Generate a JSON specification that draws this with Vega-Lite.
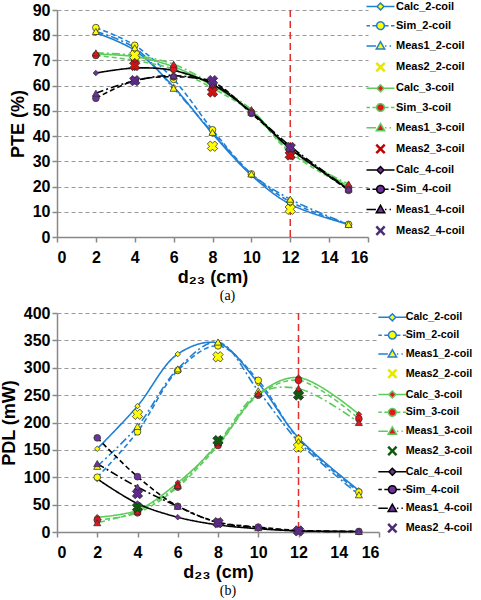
{
  "$schema": "https://vega.github.io/schema/vega-lite/v6.json",
  "background": "white",
  "padding": {"left": 0, "top": 1, "right": 0, "bottom": 2},
  "spacing": 2,
  "config": {
    "view": {"stroke": null},
    "font": "Liberation Sans",
    "axis": {"labelFont": "Liberation Sans", "labelFontWeight": "bold", "labelFontSize": 16, "labelColor": "#000", "labelOverlap": false, "titleFont": "Liberation Sans", "titleFontWeight": "bold", "titleFontSize": 18, "titleColor": "#000", "domainColor": "#888", "domainWidth": 1.5, "tickColor": "#888", "tickWidth": 1.5, "tickSize": 5},
    "axisY": {"gridColor": "#999", "gridDash": [4, 3], "gridWidth": 1, "titlePadding": 5, "labelPadding": 2},
    "axisX": {"grid": false, "labelPadding": 7, "titlePadding": 3}
  },
  "datasets": {
    "pte": [
      {"series": "Calc_2-coil", "d": 2, "v": 81}, {"series": "Calc_2-coil", "d": 4, "v": 74}, {"series": "Calc_2-coil", "d": 6, "v": 59.5}, {"series": "Calc_2-coil", "d": 8, "v": 41}, {"series": "Calc_2-coil", "d": 10, "v": 24.5}, {"series": "Calc_2-coil", "d": 12, "v": 13}, {"series": "Calc_2-coil", "d": 15, "v": 5},
      {"series": "Sim_2-coil", "d": 2, "v": 83}, {"series": "Sim_2-coil", "d": 4, "v": 76}, {"series": "Sim_2-coil", "d": 6, "v": 62.5}, {"series": "Sim_2-coil", "d": 8, "v": 42.5}, {"series": "Sim_2-coil", "d": 10, "v": 25}, {"series": "Sim_2-coil", "d": 12, "v": 14}, {"series": "Sim_2-coil", "d": 15, "v": 5},
      {"series": "Meas1_2-coil", "d": 2, "v": 81.5}, {"series": "Meas1_2-coil", "d": 4, "v": 75}, {"series": "Meas1_2-coil", "d": 6, "v": 59}, {"series": "Meas1_2-coil", "d": 8, "v": 41.5}, {"series": "Meas1_2-coil", "d": 10, "v": 25}, {"series": "Meas1_2-coil", "d": 12, "v": 15}, {"series": "Meas1_2-coil", "d": 15, "v": 5},
      {"series": "Meas2_2-coil", "d": 4, "v": 72}, {"series": "Meas2_2-coil", "d": 8, "v": 36}, {"series": "Meas2_2-coil", "d": 12, "v": 11},
      {"series": "Calc_3-coil", "d": 2, "v": 72.5}, {"series": "Calc_3-coil", "d": 4, "v": 71.5}, {"series": "Calc_3-coil", "d": 6, "v": 67.5}, {"series": "Calc_3-coil", "d": 8, "v": 60}, {"series": "Calc_3-coil", "d": 10, "v": 50}, {"series": "Calc_3-coil", "d": 12, "v": 35}, {"series": "Calc_3-coil", "d": 15, "v": 20},
      {"series": "Sim_3-coil", "d": 2, "v": 72}, {"series": "Sim_3-coil", "d": 4, "v": 70}, {"series": "Sim_3-coil", "d": 6, "v": 66.5}, {"series": "Sim_3-coil", "d": 8, "v": 59}, {"series": "Sim_3-coil", "d": 10, "v": 49.5}, {"series": "Sim_3-coil", "d": 12, "v": 33.5}, {"series": "Sim_3-coil", "d": 15, "v": 19.5},
      {"series": "Meas1_3-coil", "d": 2, "v": 73}, {"series": "Meas1_3-coil", "d": 4, "v": 72}, {"series": "Meas1_3-coil", "d": 6, "v": 68.5}, {"series": "Meas1_3-coil", "d": 8, "v": 60.5}, {"series": "Meas1_3-coil", "d": 10, "v": 50.5}, {"series": "Meas1_3-coil", "d": 12, "v": 34}, {"series": "Meas1_3-coil", "d": 15, "v": 21},
      {"series": "Meas2_3-coil", "d": 4, "v": 68}, {"series": "Meas2_3-coil", "d": 8, "v": 57.5}, {"series": "Meas2_3-coil", "d": 12, "v": 32.5},
      {"series": "Calc_4-coil", "d": 2, "v": 65}, {"series": "Calc_4-coil", "d": 4, "v": 67}, {"series": "Calc_4-coil", "d": 6, "v": 66}, {"series": "Calc_4-coil", "d": 8, "v": 60.5}, {"series": "Calc_4-coil", "d": 10, "v": 49.5}, {"series": "Calc_4-coil", "d": 12, "v": 35}, {"series": "Calc_4-coil", "d": 15, "v": 19},
      {"series": "Sim_4-coil", "d": 2, "v": 55}, {"series": "Sim_4-coil", "d": 4, "v": 62}, {"series": "Sim_4-coil", "d": 6, "v": 63.5}, {"series": "Sim_4-coil", "d": 8, "v": 61.5}, {"series": "Sim_4-coil", "d": 10, "v": 49}, {"series": "Sim_4-coil", "d": 12, "v": 35.5}, {"series": "Sim_4-coil", "d": 15, "v": 18.5},
      {"series": "Meas1_4-coil", "d": 2, "v": 57}, {"series": "Meas1_4-coil", "d": 4, "v": 62}, {"series": "Meas1_4-coil", "d": 6, "v": 64}, {"series": "Meas1_4-coil", "d": 8, "v": 61}, {"series": "Meas1_4-coil", "d": 10, "v": 49.5}, {"series": "Meas1_4-coil", "d": 12, "v": 36}, {"series": "Meas1_4-coil", "d": 15, "v": 19},
      {"series": "Meas2_4-coil", "d": 4, "v": 62}, {"series": "Meas2_4-coil", "d": 8, "v": 62}, {"series": "Meas2_4-coil", "d": 12, "v": 35.5}
    ],
    "pdl": [
      {"series": "Calc_2-coil", "d": 2, "v": 152}, {"series": "Calc_2-coil", "d": 4, "v": 230}, {"series": "Calc_2-coil", "d": 6, "v": 325}, {"series": "Calc_2-coil", "d": 8, "v": 345}, {"series": "Calc_2-coil", "d": 10, "v": 272}, {"series": "Calc_2-coil", "d": 12, "v": 172}, {"series": "Calc_2-coil", "d": 15, "v": 76},
      {"series": "Sim_2-coil", "d": 2, "v": 100}, {"series": "Sim_2-coil", "d": 4, "v": 183}, {"series": "Sim_2-coil", "d": 6, "v": 295}, {"series": "Sim_2-coil", "d": 8, "v": 340}, {"series": "Sim_2-coil", "d": 10, "v": 277}, {"series": "Sim_2-coil", "d": 12, "v": 170}, {"series": "Sim_2-coil", "d": 15, "v": 73},
      {"series": "Meas1_2-coil", "d": 2, "v": 120}, {"series": "Meas1_2-coil", "d": 4, "v": 193}, {"series": "Meas1_2-coil", "d": 6, "v": 298}, {"series": "Meas1_2-coil", "d": 8, "v": 347}, {"series": "Meas1_2-coil", "d": 10, "v": 258}, {"series": "Meas1_2-coil", "d": 12, "v": 165}, {"series": "Meas1_2-coil", "d": 15, "v": 68},
      {"series": "Meas2_2-coil", "d": 4, "v": 215}, {"series": "Meas2_2-coil", "d": 8, "v": 320}, {"series": "Meas2_2-coil", "d": 12, "v": 155},
      {"series": "Calc_3-coil", "d": 2, "v": 27}, {"series": "Calc_3-coil", "d": 4, "v": 40}, {"series": "Calc_3-coil", "d": 6, "v": 90}, {"series": "Calc_3-coil", "d": 8, "v": 160}, {"series": "Calc_3-coil", "d": 10, "v": 252}, {"series": "Calc_3-coil", "d": 12, "v": 282}, {"series": "Calc_3-coil", "d": 15, "v": 215},
      {"series": "Sim_3-coil", "d": 2, "v": 22}, {"series": "Sim_3-coil", "d": 4, "v": 35}, {"series": "Sim_3-coil", "d": 6, "v": 82}, {"series": "Sim_3-coil", "d": 8, "v": 158}, {"series": "Sim_3-coil", "d": 10, "v": 250}, {"series": "Sim_3-coil", "d": 12, "v": 277}, {"series": "Sim_3-coil", "d": 15, "v": 207},
      {"series": "Meas1_3-coil", "d": 2, "v": 17}, {"series": "Meas1_3-coil", "d": 4, "v": 38}, {"series": "Meas1_3-coil", "d": 6, "v": 85}, {"series": "Meas1_3-coil", "d": 8, "v": 163}, {"series": "Meas1_3-coil", "d": 10, "v": 253}, {"series": "Meas1_3-coil", "d": 12, "v": 262}, {"series": "Meas1_3-coil", "d": 15, "v": 200},
      {"series": "Meas2_3-coil", "d": 4, "v": 45}, {"series": "Meas2_3-coil", "d": 8, "v": 167}, {"series": "Meas2_3-coil", "d": 12, "v": 250},
      {"series": "Calc_4-coil", "d": 2, "v": 97}, {"series": "Calc_4-coil", "d": 4, "v": 52}, {"series": "Calc_4-coil", "d": 6, "v": 27}, {"series": "Calc_4-coil", "d": 8, "v": 13}, {"series": "Calc_4-coil", "d": 10, "v": 6}, {"series": "Calc_4-coil", "d": 12, "v": 2}, {"series": "Calc_4-coil", "d": 15, "v": 1},
      {"series": "Sim_4-coil", "d": 2, "v": 172}, {"series": "Sim_4-coil", "d": 4, "v": 101}, {"series": "Sim_4-coil", "d": 6, "v": 47}, {"series": "Sim_4-coil", "d": 8, "v": 18}, {"series": "Sim_4-coil", "d": 10, "v": 9}, {"series": "Sim_4-coil", "d": 12, "v": 3}, {"series": "Sim_4-coil", "d": 15, "v": 1},
      {"series": "Meas1_4-coil", "d": 2, "v": 125}, {"series": "Meas1_4-coil", "d": 4, "v": 82}, {"series": "Meas1_4-coil", "d": 6, "v": 47}, {"series": "Meas1_4-coil", "d": 8, "v": 17}, {"series": "Meas1_4-coil", "d": 10, "v": 8}, {"series": "Meas1_4-coil", "d": 12, "v": 2}, {"series": "Meas1_4-coil", "d": 15, "v": 1},
      {"series": "Meas2_4-coil", "d": 4, "v": 70}, {"series": "Meas2_4-coil", "d": 8, "v": 17}, {"series": "Meas2_4-coil", "d": 12, "v": 2}
    ]
  },
  "resolve": {"scale": {"color": "independent", "fill": "independent", "strokeDash": "independent", "x": "independent", "y": "independent"}, "legend": {"color": "independent"}},
  "vconcat": [
    {
      "width": 311, "height": 227,
      "title": {"text": "(a)", "orient": "bottom", "font": "Liberation Serif", "fontSize": 14, "fontWeight": "normal", "color": "#000", "anchor": "middle", "frame": "group", "dx": 15, "offset": 3},
      "encoding": {
        "x": {"field": "d", "type": "quantitative", "scale": {"domain": [0, 16], "nice": false}, "axis": {"values": [0, 2, 4, 6, 8, 10, 12, 14, 16], "title": "d₂₃ (cm)", "labelOverlap": false}}
      },
      "layer": [
        {
          "data": {"values": [{"d": 12}]},
          "mark": {"type": "rule", "color": "#e03030", "strokeDash": [7, 4], "strokeWidth": 1.5},
          "encoding": {}
        },
        {
          "data": {"name": "pte"},
          "encoding": {
            "y": {"field": "v", "type": "quantitative", "scale": {"domain": [0, 90], "nice": false}, "axis": {"values": [0, 10, 20, 30, 40, 50, 60, 70, 80, 90], "title": "PTE (%)", "grid": true, "labelOverlap": false}}
          },
          "layer": [
            {
              "transform": [{"filter": "!test(/^Meas2/, datum.series)"}],
              "mark": {"type": "line", "interpolate": "catmull-rom", "strokeWidth": 1.6},
              "encoding": {
                "color": {"field": "series", "type": "nominal",
                  "scale": {"domain": ["Calc_2-coil", "Sim_2-coil", "Meas1_2-coil", "Meas2_2-coil", "Calc_3-coil", "Sim_3-coil", "Meas1_3-coil", "Meas2_3-coil", "Calc_4-coil", "Sim_4-coil", "Meas1_4-coil", "Meas2_4-coil"],
                            "range": ["#1f7fd4", "#1f7fd4", "#1f7fd4", "#e6e600", "#5ccc5c", "#5ccc5c", "#5ccc5c", "#c00000", "#000000", "#000000", "#000000", "#4b2a76"]},
                  "legend": {
                    "orient": "none", "legendX": 318, "legendY": -9, "title": null, "padding": 0,
                    "symbolSize": 196, "labelFont": "Liberation Sans", "labelFontSize": 11, "labelFontWeight": "bold", "labelColor": "#000", "labelOffset": 10, "rowPadding": 5.2,
                    "encode": {"symbols": {"update": {
                      "shape": {"signal": "test(/^Calc/, datum.value) ? 'M-2,0H-0.5M0.5,0H2M0,-0.5L0.5,0L0,0.5L-0.5,0Z' : test(/^Sim/, datum.value) ? 'M-2,0H-1.5M-1.15,0H-0.6M0.6,0H1.15M1.5,0H2M0.55,0A0.55,0.55 0 1,1 -0.55,0A0.55,0.55 0 1,1 0.55,0Z' : test(/^Meas1/, datum.value) ? 'M-2,0H-0.65M0.65,0H0.85M1.3,0H1.5M0,-0.6L0.6,0.45L-0.6,0.45Z' : 'M-0.6,-0.6L0.6,0.6M0.6,-0.6L-0.6,0.6'"},
                      "fill": {"signal": "test(/2-coil/, datum.value) ? '#ffff00' : test(/3-coil/, datum.value) ? '#e8141c' : '#7030a0'"},
                      "stroke": {"signal": "test(/2-coil/, datum.value) ? (test(/^Meas2/, datum.value) ? '#e6e600' : '#1f7fd4') : test(/3-coil/, datum.value) ? (test(/^Meas2/, datum.value) ? '#c00000' : '#5ccc5c') : (test(/^Meas2/, datum.value) ? '#4b2a76' : '#000000')"},
                      "strokeDash": {"value": [1, 0]},
                      "strokeWidth": {"signal": "test(/^Meas2/, datum.value) ? 2.5 : 1.5"},
                      "opacity": {"value": 1},
                      "fillOpacity": {"value": 1}
                    }}}
                  }},
                "strokeDash": {"field": "series", "type": "nominal", "legend": null,
                  "scale": {"domain": ["Calc_2-coil", "Sim_2-coil", "Meas1_2-coil", "Calc_3-coil", "Sim_3-coil", "Meas1_3-coil", "Calc_4-coil", "Sim_4-coil", "Meas1_4-coil"],
                            "range": [[1, 0], [5, 3], [8, 3, 2, 3], [1, 0], [5, 3], [8, 3, 2, 3], [1, 0], [5, 3], [8, 3, 2, 3]]}}
              }
            },
            {
              "transform": [{"filter": "test(/^Calc/, datum.series)"}],
              "mark": {"type": "point", "shape": "diamond", "size": 30, "filled": true, "stroke": "#333", "strokeWidth": 0.8, "opacity": 1},
              "encoding": {
                "fill": {"field": "series", "type": "nominal", "legend": null,
                  "scale": {"domain": ["Calc_2-coil", "Sim_2-coil", "Meas1_2-coil", "Meas2_2-coil", "Calc_3-coil", "Sim_3-coil", "Meas1_3-coil", "Meas2_3-coil", "Calc_4-coil", "Sim_4-coil", "Meas1_4-coil", "Meas2_4-coil"],
                            "range": ["#ffff00", "#ffff00", "#ffff00", "#ffff00", "#e8141c", "#e8141c", "#e8141c", "#d01010", "#7030a0", "#7030a0", "#7030a0", "#5b2a86"]}}
              }
            },
            {
              "transform": [{"filter": "test(/^Sim/, datum.series)"}],
              "mark": {"type": "point", "shape": "circle", "size": 45, "filled": true, "stroke": "#333", "strokeWidth": 0.8, "opacity": 1},
              "encoding": {"fill": {"field": "series", "type": "nominal", "legend": null}}
            },
            {
              "transform": [{"filter": "test(/^Meas1/, datum.series)"}],
              "mark": {"type": "point", "shape": "triangle-up", "size": 50, "filled": true, "stroke": "#333", "strokeWidth": 0.8, "opacity": 1},
              "encoding": {"fill": {"field": "series", "type": "nominal", "legend": null}}
            },
            {
              "transform": [{"filter": "test(/^Meas2/, datum.series)"}],
              "mark": {"type": "point", "shape": "cross", "angle": 45, "size": 110, "filled": true, "stroke": "#222", "strokeWidth": 0.7, "opacity": 1},
              "encoding": {"fill": {"field": "series", "type": "nominal", "legend": null}}
            }
          ]
        }
      ]
    },
    {
      "width": 322, "height": 219,
      "title": {"text": "(b)", "orient": "bottom", "font": "Liberation Serif", "fontSize": 14, "fontWeight": "normal", "color": "#000", "anchor": "middle", "frame": "group", "dx": 10, "offset": 3},
      "encoding": {
        "x": {"field": "d", "type": "quantitative", "scale": {"domain": [0, 16], "nice": false}, "axis": {"values": [0, 2, 4, 6, 8, 10, 12, 14, 16], "title": "d₂₃ (cm)", "labelOverlap": false}}
      },
      "layer": [
        {
          "data": {"values": [{"d": 12}]},
          "mark": {"type": "rule", "color": "#e03030", "strokeDash": [7, 4], "strokeWidth": 1.5},
          "encoding": {}
        },
        {
          "data": {"name": "pdl"},
          "encoding": {
            "y": {"field": "v", "type": "quantitative", "scale": {"domain": [0, 400], "nice": false}, "axis": {"values": [0, 50, 100, 150, 200, 250, 300, 350, 400], "title": "PDL (mW)", "grid": true, "labelOverlap": false}}
          },
          "layer": [
            {
              "transform": [{"filter": "!test(/^Meas2/, datum.series)"}],
              "mark": {"type": "line", "interpolate": "catmull-rom", "strokeWidth": 1.6},
              "encoding": {
                "color": {"field": "series", "type": "nominal",
                  "scale": {"domain": ["Calc_2-coil", "Sim_2-coil", "Meas1_2-coil", "Meas2_2-coil", "Calc_3-coil", "Sim_3-coil", "Meas1_3-coil", "Meas2_3-coil", "Calc_4-coil", "Sim_4-coil", "Meas1_4-coil", "Meas2_4-coil"],
                            "range": ["#1f7fd4", "#1f7fd4", "#1f7fd4", "#e6e600", "#5ccc5c", "#5ccc5c", "#5ccc5c", "#0e5a0e", "#000000", "#000000", "#000000", "#4b2a76"]},
                  "legend": {
                    "orient": "none", "legendX": 330, "legendY": -1, "title": null, "padding": 0,
                    "symbolSize": 196, "labelFont": "Liberation Sans", "labelFontSize": 10.7, "labelFontWeight": "bold", "labelColor": "#000", "labelOffset": 8, "rowPadding": 3.8,
                    "encode": {"symbols": {"update": {
                      "shape": {"signal": "test(/^Calc/, datum.value) ? 'M-2,0H-0.5M0.5,0H2M0,-0.5L0.5,0L0,0.5L-0.5,0Z' : test(/^Sim/, datum.value) ? 'M-2,0H-1.5M-1.15,0H-0.6M0.6,0H1.15M1.5,0H2M0.55,0A0.55,0.55 0 1,1 -0.55,0A0.55,0.55 0 1,1 0.55,0Z' : test(/^Meas1/, datum.value) ? 'M-2,0H-0.65M0.65,0H0.85M1.3,0H1.5M0,-0.6L0.6,0.45L-0.6,0.45Z' : 'M-0.6,-0.6L0.6,0.6M0.6,-0.6L-0.6,0.6'"},
                      "fill": {"signal": "test(/2-coil/, datum.value) ? '#ffff00' : test(/3-coil/, datum.value) ? '#e8141c' : '#7030a0'"},
                      "stroke": {"signal": "test(/2-coil/, datum.value) ? (test(/^Meas2/, datum.value) ? '#e6e600' : '#1f7fd4') : test(/3-coil/, datum.value) ? (test(/^Meas2/, datum.value) ? '#0e5a0e' : '#5ccc5c') : (test(/^Meas2/, datum.value) ? '#4b2a76' : '#000000')"},
                      "strokeDash": {"value": [1, 0]},
                      "strokeWidth": {"signal": "test(/^Meas2/, datum.value) ? 2.5 : 1.5"},
                      "opacity": {"value": 1},
                      "fillOpacity": {"value": 1}
                    }}}
                  }},
                "strokeDash": {"field": "series", "type": "nominal", "legend": null,
                  "scale": {"domain": ["Calc_2-coil", "Sim_2-coil", "Meas1_2-coil", "Calc_3-coil", "Sim_3-coil", "Meas1_3-coil", "Calc_4-coil", "Sim_4-coil", "Meas1_4-coil"],
                            "range": [[1, 0], [5, 3], [8, 3, 2, 3], [1, 0], [5, 3], [8, 3, 2, 3], [1, 0], [5, 3], [8, 3, 2, 3]]}}
              }
            },
            {
              "transform": [{"filter": "test(/^Calc/, datum.series)"}],
              "mark": {"type": "point", "shape": "diamond", "size": 30, "filled": true, "stroke": "#333", "strokeWidth": 0.8, "opacity": 1},
              "encoding": {
                "fill": {"field": "series", "type": "nominal", "legend": null,
                  "scale": {"domain": ["Calc_2-coil", "Sim_2-coil", "Meas1_2-coil", "Meas2_2-coil", "Calc_3-coil", "Sim_3-coil", "Meas1_3-coil", "Meas2_3-coil", "Calc_4-coil", "Sim_4-coil", "Meas1_4-coil", "Meas2_4-coil"],
                            "range": ["#ffff00", "#ffff00", "#ffff00", "#ffff00", "#e8141c", "#e8141c", "#e8141c", "#0e5a0e", "#7030a0", "#7030a0", "#7030a0", "#5b2a86"]}}
              }
            },
            {
              "transform": [{"filter": "test(/^Sim/, datum.series)"}],
              "mark": {"type": "point", "shape": "circle", "size": 45, "filled": true, "stroke": "#333", "strokeWidth": 0.8, "opacity": 1},
              "encoding": {"fill": {"field": "series", "type": "nominal", "legend": null}}
            },
            {
              "transform": [{"filter": "test(/^Meas1/, datum.series)"}],
              "mark": {"type": "point", "shape": "triangle-up", "size": 50, "filled": true, "stroke": "#333", "strokeWidth": 0.8, "opacity": 1},
              "encoding": {"fill": {"field": "series", "type": "nominal", "legend": null}}
            },
            {
              "transform": [{"filter": "test(/^Meas2/, datum.series)"}],
              "mark": {"type": "point", "shape": "cross", "angle": 45, "size": 110, "filled": true, "stroke": "#222", "strokeWidth": 0.7, "opacity": 1},
              "encoding": {"fill": {"field": "series", "type": "nominal", "legend": null}}
            }
          ]
        }
      ]
    }
  ]
}
